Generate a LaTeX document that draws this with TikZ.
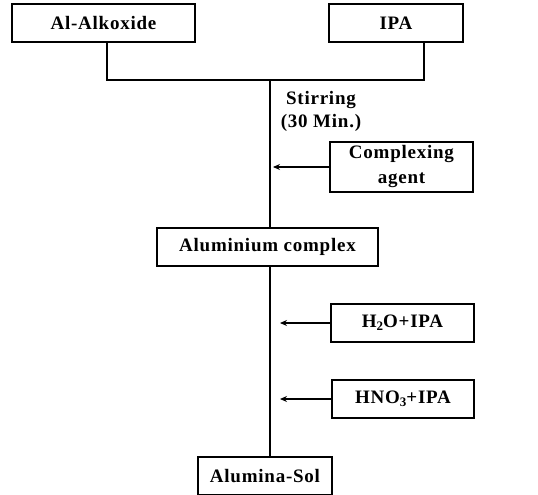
\documentclass[tikz,border=0pt]{standalone}
\usepackage{fontspec}
\setmainfont[LetterSpace=4]{Liberation Serif}
\usetikzlibrary{positioning, arrows.meta}
\tikzstyle{box} = [rectangle, minimum height=38pt, inner sep=0pt, text centered, draw=black, line width=1.2pt]
\tikzstyle{line} = [line width=1.2pt]
\tikzstyle{arrow} = [line width=1.1pt,-{Stealth[length=7pt,width=6pt]}]
\newcommand{\chemsub}[1]{\raisebox{-3pt}{\fontsize{13}{13}\selectfont #1}}

\begin{document}
\begin{tikzpicture}[x=1pt, y=-1pt, node distance=76pt, font=\bfseries\fontsize{19}{25}\selectfont]
\useasboundingbox (0,0) rectangle (538,495);
\node (alk) [box, minimum width=183pt] at (103.5,23) {Al-Alkoxide};
\node (ipa) [box, minimum width=134pt] at (396,23) {IPA};
\node (alc) [box, minimum width=221pt] at (267.5,247) {Aluminium complex};
\node (cplx) [box, minimum width=143pt, minimum height=50pt, align=center, above of=alc, xshift=134pt, yshift=4pt] {Complexing\\agent};
\node (water) [box, minimum width=143pt, below of=alc, xshift=135pt] {H\chemsub{2}O+IPA};
\node (acid) [box, minimum width=142pt, below of=water, xshift=0.5pt] {HNO\chemsub{3}+IPA};
\node (sol) [box, minimum width=134pt, below of=acid, xshift=-138pt, yshift=-1pt] {Alumina-Sol};
\node (stir) [align=center, inner sep=0pt, font=\bfseries\fontsize{19}{23}\selectfont] at (321,111) {Stirring\\(30 Min.)};

\coordinate (ja) at (107,80);
\coordinate (jb) at (424,80);
\coordinate (jm) at (270,80);
\coordinate (c1) at (273,167);
\coordinate (c2) at (280,323);
\coordinate (c3) at (280,399);

\draw [line] (alk.south -| ja) -- (ja) -- (jb) -- (ipa.south -| jb);
\draw [line] (jm) -- (alc.north -| jm);
\draw [line] (alc.south -| jm) -- (sol.north -| jm);
\draw [arrow] (cplx) -- (c1);
\draw [arrow] (water) -- (c2);
\draw [arrow] (acid) -- (c3);
\end{tikzpicture}
\end{document}
